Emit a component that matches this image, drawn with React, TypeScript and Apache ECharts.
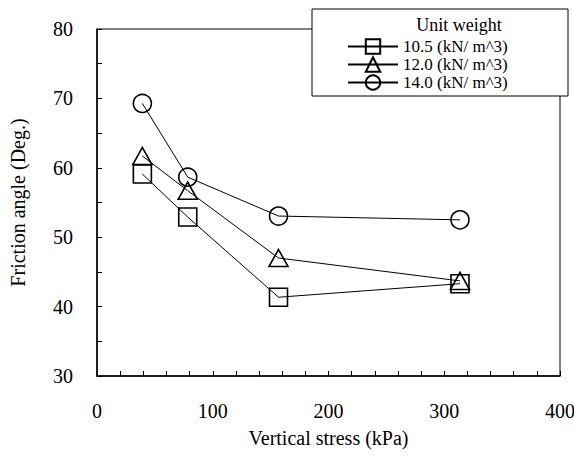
import React, { useEffect, useRef } from "react";
import * as echarts from "echarts";

const stress = [39.2, 78.4, 156.8, 313.6];
const w105 = [59.1, 52.9, 41.35, 43.3];
const w120 = [61.7, 56.7, 47.0, 43.7];
const w140 = [69.27, 58.65, 53.05, 52.5];
const seriesNames = ["10.5 (kN/ m^3)", "12.0 (kN/ m^3)", "14.0 (kN/ m^3)"];
const symbols = ["rect", "triangle", "circle"];

const FONT = "'Liberation Serif', 'Times New Roman', serif";

export default function App() {
  const ref = useRef<HTMLDivElement>(null);
  useEffect(() => {
    if (!ref.current) return;
    const chart = echarts.init(ref.current, null, { renderer: "svg" });
    const vals = [w105, w120, w140];
    const series = vals.map((arr, i) => ({
      name: seriesNames[i],
      type: "line",
      data: arr.map((v, j) => [stress[j], v]),
      symbol: symbols[i],
      symbolSize: symbols[i] === "triangle" ? [19, 17] : 18,
      lineStyle: { color: "#000", width: 1 },
      itemStyle: { color: "rgba(255,255,255,0)", borderColor: "#000", borderWidth: 1.6 },
      emphasis: { disabled: true },
      z: 3,
    }));
    chart.setOption({
      animation: false,
      backgroundColor: "#fff",
      textStyle: { fontFamily: FONT, color: "#000" },
      grid: {
        left: 97,
        right: 14,
        top: 29,
        bottom: 80,
        show: true,
        borderColor: "#000",
        borderWidth: 1,
        containLabel: false,
        outerBoundsMode: "none",
      },
      xAxis: {
        type: "value",
        min: 0,
        max: 400,
        interval: 100,
        name: "Vertical stress (kPa)",
        nameLocation: "middle",
        nameGap: 52,
        nameTextStyle: { fontFamily: FONT, fontSize: 20, color: "#000" },
        axisLine: { show: true, lineStyle: { color: "#000", width: 1.5 } },
        axisTick: { show: true, inside: true, length: 5, lineStyle: { color: "#000" } },
        minorTick: { show: true, splitNumber: 5, length: 5, lineStyle: { color: "#000" } },
        splitLine: { show: false },
        axisLabel: { fontFamily: FONT, fontSize: 20, color: "#000", margin: 25 },
      },
      yAxis: {
        type: "value",
        min: 30,
        max: 80,
        interval: 10,
        name: "Friction angle (Deg.)",
        nameLocation: "middle",
        nameGap: 69,
        nameTextStyle: { fontFamily: FONT, fontSize: 20, color: "#000" },
        axisLine: { show: true, lineStyle: { color: "#000", width: 1.5 } },
        axisTick: { show: true, inside: true, length: 5, lineStyle: { color: "#000" } },
        minorTick: { show: true, splitNumber: 2, length: 5, lineStyle: { color: "#000" } },
        splitLine: { show: false },
        axisLabel: { fontFamily: FONT, fontSize: 20, color: "#000", margin: 24 },
      },
      legend: {
        data: seriesNames,
        orient: "vertical",
        left: 347,
        top: 37.5,
        itemWidth: 50,
        itemHeight: 18,
        itemGap: 0,
        padding: 0,
        z: 20,
        selectedMode: false,
        textStyle: { fontFamily: FONT, fontSize: 17, color: "#000", lineHeight: 18 },
      },
      graphic: [
        {
          type: "rect",
          z: 10,
          shape: { x: 312, y: 9, width: 256, height: 87 },
          style: { fill: "#fff", stroke: "#000", lineWidth: 1 },
        },
        {
          type: "text",
          z: 20,
          x: 459,
          y: 25,
          style: {
            text: "Unit weight",
            fontFamily: FONT,
            fontSize: 18,
            fill: "#000",
            align: "center",
            verticalAlign: "middle",
          },
        },
      ],
      series,
    });
    return () => chart.dispose();
  }, []);
  return (
    <div
      ref={ref}
      style={{ position: "absolute", left: 0, top: 0, width: 574, height: 456 }}
    />
  );
}
